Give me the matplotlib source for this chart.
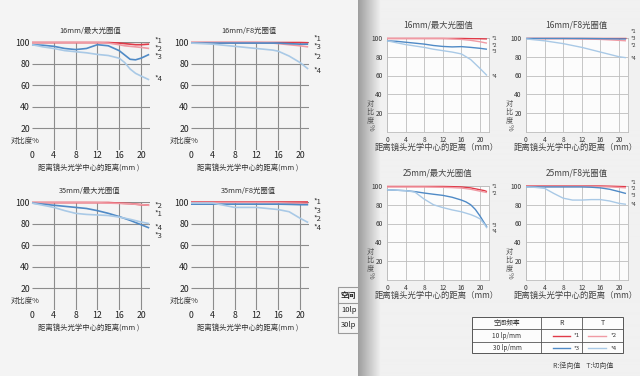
import matplotlib.pyplot as plt
import numpy as np
from matplotlib.patches import Rectangle

plt.rcParams["font.family"] = ["Noto Sans CJK SC", "DejaVu Sans"]

W, H = 640, 376

# colours for the four MTF curves: 10lp R, 10lp T, 30lp R, 30lp T
CURVE_COLORS = ["#e03a48", "#f09aa4", "#4f8ac6", "#a9c9e6"]
CURVE_NAMES = ["*1", "*2", "*3", "*4"]

X_TICKS = [0, 4, 8, 12, 16, 20]
Y_TICKS = [20, 40, 60, 80, 100]

# ---- left page (scan): 16mm / 35mm ----
L1_TITLE = "16mm/最大光圈值"
L1_X = [0, 2, 4, 6, 8, 10, 12, 14, 16, 17, 18, 19, 20, 21.5]
L1_R10 = [99.5, 99.5, 99.5, 99.5, 99.5, 99.5, 99.5, 99.5, 99, 98.5, 98, 97.5, 97.5, 98]
L1_T10 = [99.5, 99.5, 99.5, 99.5, 99.5, 99.5, 99.5, 99, 97.5, 96.5, 96, 95.5, 95, 94]
L1_R30 = [97.5, 97, 96, 94, 93, 94, 97.5, 96.5, 92, 88, 84, 83.5, 85, 88.5]
L1_T30 = [97.5, 95.5, 94, 92, 91, 90, 88.5, 87.5, 85, 81, 75, 71, 68.5, 65]
L1_LABEL_Y = [101, 93.5, 86, 65.5]  # *1 *2 *3 *4

L2_TITLE = "16mm/F8光圈值"
L2_X = [0, 4, 8, 12, 15, 16, 18, 20, 21.5]
L2_R10 = [99.5, 99.5, 99.5, 99.5, 99.5, 99.5, 99.5, 99.5, 99.3]
L2_T10 = [99.5, 99.5, 99.5, 99.5, 99, 98.5, 97.5, 96.5, 95.5]
L2_R30 = [99, 99, 99, 99, 99, 99, 98.5, 98, 98]
L2_T30 = [99, 98, 96, 94, 92.5, 91.5, 87, 81, 75]
L2_LABEL_Y = [103, 86, 95.3, 73]

L3_TITLE = "35mm/最大光圈值"
L3_X = [0, 2, 4, 6, 8, 10, 12, 14, 16, 18, 20, 21.5]
L3_R10 = [99.5, 99.5, 99.5, 99.5, 99.5, 99.5, 99.5, 99.5, 99, 98.5, 97.5, 97]
L3_T10 = [99.5, 99.5, 99.5, 99.5, 99.5, 99.5, 99.3, 99, 98.7, 98.3, 97.5, 97]
L3_R30 = [99, 98, 97, 96, 95, 94, 92, 89.5, 86.5, 83, 79, 76]
L3_T30 = [99, 97, 95, 92, 89.5, 88.5, 88, 87.5, 86, 84, 81.5, 80]
L3_LABEL_Y = [89, 96.3, 68.5, 76]

L4_TITLE = "35mm/F8光圈值"
L4_X = [0, 4, 8, 12, 16, 18, 20, 21.5]
L4_R10 = [100, 100, 100, 100, 100, 100, 100, 100]
L4_T10 = [99.5, 99.5, 99.5, 99.5, 99.3, 99, 98.8, 98.5]
L4_R30 = [98, 98, 98, 98, 98, 97.8, 97.5, 97.5]
L4_T30 = [99, 99, 95, 95, 93, 91, 85, 81]
L4_LABEL_Y = [100, 84.3, 91.7, 76]

# ---- right page (book): 16mm / 25mm ----
R1_TITLE = "16mm/最大光圈值"
R1_X = [0, 2, 4, 6, 8, 10, 12, 14, 16, 18, 20, 21.5]
R1_R10 = [99.5, 99.5, 99.5, 99.5, 99.5, 99.5, 99.5, 99.5, 99.5, 99.3, 99.2, 99]
R1_T10 = [99.5, 99.5, 99.5, 99.5, 99.5, 99.5, 99.5, 99, 98.5, 97.5, 96, 94.5]
R1_R30 = [97, 96.5, 95.5, 94.5, 93.5, 92, 91, 90.5, 90.8, 90, 89, 88]
R1_T30 = [97, 95, 93, 91.5, 90, 88, 86.5, 85, 83, 77, 67.5, 60]
R1_LABEL_Y = [99.5, 92.5, 85.5, 58.5]

R2_TITLE = "16mm/F8光圈值"
R2_X = [0, 4, 8, 12, 16, 20, 21.5]
R2_R10 = [100, 100, 100, 100, 100, 100, 100]
R2_T10 = [99.5, 99.5, 99.5, 99, 98.5, 97.5, 97]
R2_R30 = [99.5, 99.5, 99.5, 99.5, 99.3, 99, 99]
R2_T30 = [99, 97, 94, 90, 85, 80, 79]
R2_LABEL_Y = [106.5, 92.5, 99.5, 77.6]

R3_TITLE = "25mm/最大光圈值"
R3_X = [0, 2, 4, 6, 8, 10, 12, 14, 16, 17, 18, 19, 20, 21, 21.5]
R3_R10 = [99.5, 99.5, 99.5, 99.5, 99.5, 99.5, 99.5, 99.3, 99, 98.5, 98, 97, 96, 95, 94]
R3_T10 = [99, 99, 99, 99, 99, 98.8, 98.6, 98.3, 97.8, 97.2, 96.5, 95.5, 94.5, 93.5, 93]
R3_R30 = [96, 95.5, 95, 94, 92.5, 91.2, 90, 88, 85, 83, 80, 75, 68, 60, 56]
R3_T30 = [96, 95.5, 95, 93.5, 86, 80, 77, 74.5, 72.5, 71, 69.5, 67.5, 65, 59, 55]
R3_LABEL_Y = [99.5, 92.5, 58, 51]

R4_TITLE = "25mm/F8光圈值"
R4_X = [0, 2, 4, 6, 8, 10, 12, 14, 16, 18, 20, 21.5]
R4_R10 = [100, 100, 100, 100, 100, 100, 100, 100, 100, 99.8, 99.5, 99.3]
R4_T10 = [99.5, 99.5, 99.5, 99.5, 99.5, 99.5, 99.5, 99.3, 99.2, 99, 98.5, 98]
R4_R30 = [99, 99, 99, 99, 99, 99, 99, 98.7, 98, 96.5, 94, 92]
R4_T30 = [99, 98.5, 97.5, 92, 87, 85, 85, 85.5, 85.5, 84, 81.5, 80.5]
R4_LABEL_Y = [104, 97, 90, 80.8]

LEGEND_FREQS = ["10 lp/mm", "30 lp/mm"]
LEFT_TABLE_ROWS = ["空间", "10lp", "30lp"]

LEFT_XLABEL = "距离镜头光学中心的距离(mm )"
RIGHT_XLABEL = "距离镜头光学中心的距离（mm）"
TEXT_DARK = "#333333"


def add_px_axes(fig, x0, y100, sx, sy, xmax, zorder):
    # place an axes so that data (0, 0..100) lands on the given pixel scale
    left = x0 / W
    bottom = 1 - (y100 + 100 * sy) / H
    ax = fig.add_axes([left, bottom, xmax * sx / W, 100 * sy / H], zorder=zorder)
    ax.set_xlim(0, xmax)
    ax.set_ylim(0, 100)
    return ax


def draw_curves(ax, x, series, label_y, label_x, label_size, lw):
    for values, color in zip(series, CURVE_COLORS):
        ax.plot(x, values, color=color, lw=lw, solid_capstyle="butt", clip_on=False, zorder=3)
    for name, y in zip(CURVE_NAMES, label_y):
        ax.text(label_x, y, name, fontsize=label_size, color=TEXT_DARK, va="center", ha="left", clip_on=False)


def left_chart(fig, x0, y100, title, x, series, label_y):
    sx, sy, xmax = 5.45, 1.08, 21.6
    ax = add_px_axes(fig, x0, y100, sx, sy, xmax, zorder=1)
    ax.patch.set_visible(False)
    for spine in ax.spines.values():
        spine.set_visible(False)
    ax.vlines(X_TICKS[1:], 0, 100, color="#8c8c8c", lw=0.8, zorder=1)
    ax.hlines(Y_TICKS, 0, xmax, color="#8c8c8c", lw=0.8, zorder=1)
    ax.set_xticks(X_TICKS)
    ax.set_yticks(Y_TICKS)
    ax.tick_params(axis="x", length=0, labelsize=6.3, labelcolor="#222222", pad=0.8)
    ax.tick_params(axis="y", length=0, labelsize=6.3, labelcolor="#222222", pad=1.5)
    draw_curves(ax, x, series, label_y, 22.4, 5.5, 1.2)
    ax.text(10.6, 110, title, fontsize=5.3, color=TEXT_DARK, ha="center", va="center", clip_on=False)
    ax.text(-3.9, 8, "对比度%", fontsize=5.3, color=TEXT_DARK, ha="left", va="center", clip_on=False)
    ax.text(10.3, -17, LEFT_XLABEL, fontsize=5.3, color=TEXT_DARK, ha="center", va="center", clip_on=False)
    return ax


def right_chart(fig, x0, y100, title, x, series, label_y):
    sx, sy, xmax = 4.65, 0.9375, 22
    ax = add_px_axes(fig, x0, y100, sx, sy, xmax, zorder=4)
    ax.set_facecolor("#fcfcfc")
    for spine in ax.spines.values():
        spine.set_color("#bdbdbd")
        spine.set_linewidth(0.6)
    ax.vlines(X_TICKS, 0, 100, color="#bdbdbd", lw=0.6, zorder=1)
    ax.hlines(Y_TICKS, 0, xmax, color="#bdbdbd", lw=0.6, zorder=1)
    ax.set_xticks(X_TICKS)
    ax.set_yticks(Y_TICKS)
    ax.tick_params(length=0, labelsize=4.8, labelcolor="#333333", pad=3)
    draw_curves(ax, x, series, label_y, 22.6, 3.9, 1.0)
    ax.text(10.9, 114, title, fontsize=6, color="#444444", ha="center", va="center", clip_on=False)
    ax.text(10.6, -16.5, RIGHT_XLABEL, fontsize=6, color="#444444", ha="center", va="center", clip_on=False)
    ax.text(-3.6, 21, "对\n比\n度", fontsize=5.2, color="#555555", ha="center", va="center",
            linespacing=0.95, clip_on=False)
    ax.text(-3.6, 5, "%", fontsize=5.2, color="#555555", ha="center", va="center", rotation=-90, clip_on=False)
    return ax


def main():
    fig = plt.figure(figsize=(W / 100, H / 100), dpi=100, facecolor="#f4f4f4")

    # left page
    left_chart(fig, 32, 42, L1_TITLE, L1_X, [L1_R10, L1_T10, L1_R30, L1_T30], L1_LABEL_Y)
    left_chart(fig, 191, 42, L2_TITLE, L2_X, [L2_R10, L2_T10, L2_R30, L2_T30], L2_LABEL_Y)
    left_chart(fig, 32, 202, L3_TITLE, L3_X, [L3_R10, L3_T10, L3_R30, L3_T30], L3_LABEL_Y)
    left_chart(fig, 191, 202, L4_TITLE, L4_X, [L4_R10, L4_T10, L4_R30, L4_T30], L4_LABEL_Y)

    # partial table on the left page, hidden under the right page
    base = fig.add_axes([0, 0, 1, 1], zorder=2)
    base.set_xlim(0, W)
    base.set_ylim(H, 0)
    base.axis("off")
    row_edges = [287, 303, 317, 333]
    base.add_patch(Rectangle((338, 287), 60, 46, fill=False, edgecolor="#9a9a9a", lw=0.8))
    for y in row_edges[1:-1]:
        base.plot([338, 398], [y, y], color="#9a9a9a", lw=0.8)
    for text, top, bottom in zip(LEFT_TABLE_ROWS, row_edges[:-1], row_edges[1:]):
        base.text(341, (top + bottom) / 2, text, fontsize=5.5, color="#222222", ha="left", va="center",
                  fontweight="bold" if text == "空间" else "normal")

    # right page with its shadowed fold
    page = fig.add_axes([358 / W, 0, (W - 358) / W, 1], zorder=3)
    page.set_xlim(358, W)
    page.set_ylim(H, 0)
    page.axis("off")
    cols = np.arange(358, W)
    shade = np.clip(0.62 + (cols - 358) * 0.0145, 0, 0.945)
    page.imshow(shade[np.newaxis, :], cmap="gray", vmin=0, vmax=1, aspect="auto",
                extent=(358, W, H, 0), interpolation="bilinear")

    right_chart(fig, 387, 38, R1_TITLE, R1_X, [R1_R10, R1_T10, R1_R30, R1_T30], R1_LABEL_Y)
    right_chart(fig, 526, 38, R2_TITLE, R2_X, [R2_R10, R2_T10, R2_R30, R2_T30], R2_LABEL_Y)
    right_chart(fig, 387, 186, R3_TITLE, R3_X, [R3_R10, R3_T10, R3_R30, R3_T30], R3_LABEL_Y)
    right_chart(fig, 526, 186, R4_TITLE, R4_X, [R4_R10, R4_T10, R4_R30, R4_T30], R4_LABEL_Y)

    # legend table of the right page
    top = fig.add_axes([0, 0, 1, 1], zorder=5)
    top.set_xlim(0, W)
    top.set_ylim(H, 0)
    top.axis("off")
    top.add_patch(Rectangle((472, 317), 151, 36, facecolor="#fcfcfc", edgecolor="#555555", lw=0.7))
    for y in [329, 342]:
        top.plot([472, 623], [y, y], color="#555555", lw=0.6)
    for xc in [541, 582]:
        top.plot([xc, xc], [317, 353], color="#555555", lw=0.6)
    top.text(507, 323, "空间频率", fontsize=4.8, color="#333333", ha="center", va="center")
    top.text(561, 323, "R", fontsize=5, color="#333333", ha="center", va="center")
    top.text(603, 323, "T", fontsize=5, color="#333333", ha="center", va="center")
    row_y = [335.5, 348]
    for i, (freq, y) in enumerate(zip(LEGEND_FREQS, row_y)):
        top.text(507, y, freq, fontsize=4.6, color="#333333", ha="center", va="center")
        top.plot([553, 570], [y, y], color=CURVE_COLORS[2 * i], lw=1.0)
        top.text(574, y, CURVE_NAMES[2 * i], fontsize=4.3, color="#333333", ha="left", va="center")
        top.plot([588, 606], [y, y], color=CURVE_COLORS[2 * i + 1], lw=1.0)
        top.text(611, y, CURVE_NAMES[2 * i + 1], fontsize=4.3, color="#333333", ha="left", va="center")
    top.text(553, 366, "R:径向值    T:切向值", fontsize=5, color="#444444", ha="left", va="center")

    fig.savefig("out.png", dpi=100, facecolor=fig.get_facecolor())
    plt.close(fig)


if __name__ == "__main__":
    main()
